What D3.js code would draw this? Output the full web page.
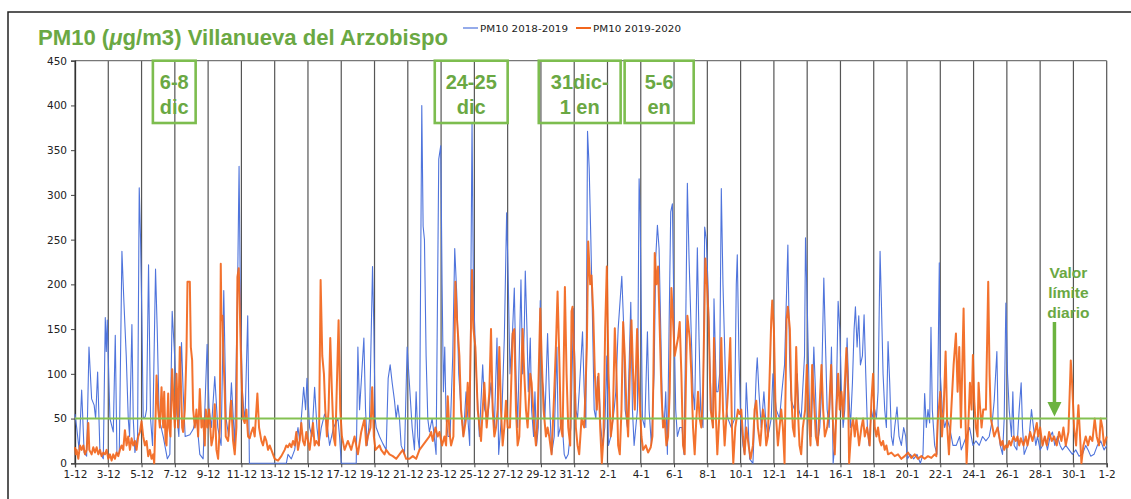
<!DOCTYPE html>
<html><head><meta charset="utf-8">
<script src="https://cdn.jsdelivr.net/npm/d3@7"></script>
<style>body{margin:0;background:#fff;} svg{display:block;}</style>
</head><body>
<svg id="chart" width="1131" height="499"></svg>
<script>
// ---- data (x = days since 1 Dec, y = PM10 µg/m3) ----
const xTickLabels = ["1-12","3-12","5-12","7-12","9-12","11-12","13-12","15-12","17-12","19-12","21-12","23-12","25-12","27-12","29-12","31-12","2-1","4-1","6-1","8-1","10-1","12-1","14-1","16-1","18-1","20-1","22-1","24-1","26-1","28-1","30-1","1-2"];
const yTicks = [0,50,100,150,200,250,300,350,400,450];
const seriesNames = ["PM10 2018-2019","PM10 2019-2020"];
const limitValue = 50;
const annotationLabels = [["6-8","dic"],["24-25","dic"],["31dic-","1 en"],["5-6","en"]];
const annotationSpans = [[4.68,7.25],[21.62,26.0],[27.87,32.79],[33.03,37.18]];
const limitLabel = ["Valor","límite","diario"];

const pm10_2018_2019 = [[0,55],[0.1,40],[0.25,15],[0.4,82],[0.55,12],[0.7,8],[0.84,130],[1,72],[1.15,65],[1.24,50],[1.36,102],[1.5,12],[1.7,5],[1.82,163],[1.88,125],[1.94,160],[2.1,50],[2.3,35],[2.42,143],[2.52,10],[2.66,12],[2.82,237],[2.94,180],[3.08,120],[3.2,50],[3.28,30],[3.42,155],[3.5,50],[3.6,12],[3.76,30],[3.86,308],[3.94,250],[4.02,160],[4.1,50],[4.22,52],[4.3,60],[4.42,222],[4.54,50],[4.66,20],[4.84,217],[4.94,150],[5.06,50],[5.3,30],[5.55,5],[5.7,10],[5.84,170],[5.96,130],[6.04,100],[6.12,55],[6.24,30],[6.4,135],[6.5,80],[6.62,30],[6.9,32],[7.1,38],[7.3,52],[7.5,10],[7.7,5],[7.94,133],[8.06,60],[8.2,40],[8.4,97],[8.58,40],[8.78,20],[8.94,193],[9.08,50],[9.24,30],[9.4,90],[9.6,20],[9.78,210],[9.86,332],[9.94,180],[10.06,80],[10.14,60],[10.22,50],[10.38,165],[10.48,0],[12.7,0],[12.8,10],[13,5],[13.2,15],[13.4,40],[13.5,25],[13.74,85],[13.86,60],[13.94,95],[14.1,40],[14.24,30],[14.4,85],[14.54,40],[14.66,20],[14.8,40],[15,55],[15.1,50],[15.3,20],[15.54,40],[15.8,50],[15.9,30],[16,0],[16.9,0],[17,130],[17.1,60],[17.2,90],[17.36,140],[17.46,60],[17.56,20],[17.7,50],[17.88,220],[17.96,150],[18.04,50],[18.1,40],[18.3,30],[18.5,22],[18.7,15],[18.82,95],[18.94,110],[19.06,90],[19.2,70],[19.3,50],[19.4,65],[19.5,50],[19.6,20],[19.8,10],[19.96,130],[20.06,100],[20.26,40],[20.4,15],[20.5,80],[20.6,30],[20.7,15],[20.84,400],[20.92,265],[21,250],[21.1,120],[21.2,50],[21.3,35],[21.46,50],[21.56,35],[21.7,10],[21.86,340],[21.98,355],[22.06,200],[22.14,80],[22.22,130],[22.3,50],[22.42,30],[22.54,30],[22.7,120],[22.82,240],[22.94,190],[23.06,100],[23.2,60],[23.34,30],[23.5,80],[23.72,20],[23.86,380],[23.94,200],[24.04,140],[24.14,90],[24.3,30],[24.5,110],[24.62,60],[24.8,50],[25,90],[25.2,40],[25.36,140],[25.46,10],[25.66,60],[25.8,140],[25.94,280],[26.04,200],[26.14,100],[26.3,150],[26.4,196],[26.5,100],[26.6,40],[26.8,205],[26.9,100],[27,150],[27.06,215],[27.16,150],[27.24,80],[27.36,140],[27.44,60],[27.56,30],[27.64,80],[27.74,20],[27.84,40],[27.96,182],[28.04,100],[28.16,80],[28.24,50],[28.4,145],[28.5,80],[28.64,10],[28.8,30],[28.96,130],[29.04,30],[29.16,40],[29.26,50],[29.4,10],[29.5,5],[29.64,10],[29.8,40],[29.96,173],[30.1,60],[30.2,50],[30.3,80],[30.5,147],[30.6,80],[30.7,40],[30.8,371],[30.9,330],[31,250],[31.1,160],[31.2,60],[31.3,50],[31.4,97],[31.5,80],[31.6,40],[31.7,20],[31.84,40],[31.96,120],[32.06,20],[32.2,30],[32.4,60],[32.5,80],[32.64,150],[32.86,209],[32.96,160],[33.06,60],[33.2,40],[33.4,180],[33.5,60],[33.6,20],[33.7,40],[33.8,60],[33.9,318],[33.96,280],[34.1,50],[34.24,40],[34.4,147],[34.5,60],[34.64,20],[34.8,100],[34.9,230],[35,266],[35.1,240],[35.2,150],[35.3,60],[35.4,40],[35.5,80],[35.6,10],[35.7,150],[35.8,281],[35.9,290],[36,160],[36.1,60],[36.2,30],[36.34,40],[36.48,40],[36.6,10],[36.68,120],[36.8,313],[36.9,230],[37.04,140],[37.14,80],[37.24,60],[37.4,241],[37.5,140],[37.6,60],[37.74,40],[37.84,264],[37.94,250],[38.04,200],[38.14,120],[38.24,60],[38.34,40],[38.4,184],[38.54,80],[38.64,80],[38.74,100],[38.84,307],[38.94,200],[39.04,130],[39.14,60],[39.24,50],[39.44,40],[39.64,50],[39.74,200],[39.8,233],[39.9,120],[40,50],[40.14,20],[40.24,10],[40.34,90],[40.44,50],[40.54,5],[40.74,0],[40.94,100],[41,118],[41.1,80],[41.24,40],[41.4,80],[41.5,50],[41.64,30],[41.84,50],[41.94,100],[42.14,60],[42.34,50],[42.48,80],[42.64,110],[42.84,244],[42.94,120],[43.04,70],[43.24,60],[43.4,100],[43.5,60],[43.64,50],[43.84,120],[43.9,252],[44,180],[44.14,60],[44.24,30],[44.4,130],[44.5,80],[44.6,20],[44.76,40],[44.86,80],[45,207],[45.12,120],[45.2,60],[45.32,40],[45.46,130],[45.56,0],[45.66,20],[45.76,80],[45.86,181],[45.96,150],[46.06,80],[46.16,40],[46.26,60],[46.4,140],[46.5,80],[46.6,40],[46.72,90],[46.82,150],[46.9,175],[47,130],[47.1,165],[47.2,110],[47.32,120],[47.42,166],[47.52,100],[47.62,40],[47.72,20],[47.86,60],[47.96,50],[48.06,60],[48.16,50],[48.26,80],[48.38,237],[48.46,180],[48.56,100],[48.66,60],[48.76,40],[48.86,136],[48.96,90],[49.06,30],[49.16,20],[49.26,40],[49.4,63],[49.52,30],[49.66,20],[49.8,40],[49.92,30],[50.02,5],[50.2,10],[50.4,5],[50.6,10],[50.8,0],[50.96,10],[51.06,78],[51.16,40],[51.26,60],[51.36,45],[51.44,152],[51.52,60],[51.66,20],[51.8,10],[51.94,224],[52,100],[52.12,60],[52.26,40],[52.4,50],[52.56,40],[52.66,30],[52.76,20],[52.96,20],[53.16,30],[53.26,15],[53.36,20],[53.56,30],[53.76,40],[53.96,20],[54.14,25],[54.34,20],[54.54,30],[54.74,25],[54.94,30],[55.14,50],[55.24,70],[55.4,125],[55.48,40],[55.6,20],[55.74,10],[55.84,50],[55.94,179],[56.04,100],[56.14,60],[56.28,30],[56.36,80],[56.44,20],[56.6,15],[56.74,60],[56.86,90],[56.94,40],[57.04,10],[57.24,20],[57.34,30],[57.48,60],[57.6,40],[57.74,20],[57.84,30],[58,15],[58.14,20],[58.28,30],[58.44,15],[58.6,30],[58.74,35],[58.88,20],[59.04,30],[59.2,20],[59.34,15],[59.54,20],[59.74,15],[59.94,10],[60.14,15],[60.34,8],[60.54,10],[60.74,20],[60.88,15],[61.04,8],[61.24,10],[61.44,20],[61.64,25],[61.84,15],[62,20]];

const pm10_2019_2020 = [[0,18],[0.05,10],[0.1,15],[0.2,5],[0.3,20],[0.4,15],[0.5,20],[0.6,10],[0.7,15],[0.8,45],[0.86,15],[1,10],[1.1,18],[1.2,12],[1.3,18],[1.4,10],[1.5,15],[1.6,8],[1.7,12],[1.8,10],[1.9,15],[2,5],[2.1,10],[2.2,3],[2.3,10],[2.4,5],[2.5,12],[2.6,8],[2.7,15],[2.8,20],[2.9,15],[3,37],[3.1,20],[3.2,30],[3.3,15],[3.4,28],[3.5,20],[3.6,25],[3.7,15],[3.8,30],[3.9,35],[4,47],[4.1,30],[4.2,20],[4.3,25],[4.4,8],[4.5,15],[4.6,5],[4.7,10],[4.76,0],[4.84,50],[4.9,98],[5,60],[5.1,40],[5.2,85],[5.3,40],[5.36,80],[5.44,25],[5.5,20],[5.6,78],[5.66,40],[5.74,30],[5.84,105],[5.94,60],[6,40],[6.1,100],[6.2,40],[6.3,130],[6.44,40],[6.5,35],[6.6,60],[6.7,125],[6.76,203],[6.9,203],[6.96,130],[7.04,115],[7.1,60],[7.2,40],[7.3,60],[7.4,30],[7.5,83],[7.6,40],[7.7,50],[7.8,20],[7.86,60],[7.96,40],[8.06,60],[8.2,20],[8.3,30],[8.4,66],[8.5,15],[8.6,5],[8.7,40],[8.76,223],[8.8,160],[8.86,165],[8.92,120],[9,80],[9.06,30],[9.2,25],[9.3,50],[9.38,70],[9.5,25],[9.6,10],[9.7,40],[9.76,208],[9.84,218],[9.9,175],[10,100],[10.1,50],[10.2,45],[10.3,60],[10.4,30],[10.5,28],[10.6,35],[10.7,40],[10.8,30],[10.96,78],[11.06,40],[11.2,25],[11.3,20],[11.4,30],[11.5,25],[11.6,15],[11.7,20],[11.8,15],[11.9,10],[12,5],[12.2,3],[12.4,8],[12.6,15],[12.7,20],[12.8,18],[12.9,22],[13,18],[13.1,25],[13.2,20],[13.3,35],[13.4,15],[13.5,25],[13.6,45],[13.7,25],[13.8,20],[13.9,35],[14.1,15],[14.3,45],[14.4,20],[14.5,25],[14.66,20],[14.76,205],[14.86,120],[14.96,100],[15.04,60],[15.14,30],[15.24,60],[15.34,140],[15.44,80],[15.54,30],[15.64,20],[15.84,160],[15.94,60],[16.04,30],[16.2,15],[16.4,25],[16.6,15],[16.8,30],[17,10],[17.2,35],[17.4,50],[17.5,20],[17.6,30],[17.76,40],[17.86,85],[17.96,30],[18.06,15],[18.3,20],[18.4,15],[18.6,10],[18.7,15],[18.9,10],[19.1,8],[19.3,5],[19.5,10],[19.7,15],[19.9,5],[20.1,5],[20.3,8],[20.5,5],[20.7,15],[20.9,20],[21.1,25],[21.3,30],[21.4,35],[21.5,25],[21.66,40],[21.8,30],[21.9,35],[22.06,20],[22.2,30],[22.3,20],[22.4,75],[22.5,35],[22.6,20],[22.74,30],[22.86,203],[22.96,160],[23.1,120],[23.2,60],[23.34,30],[23.5,50],[23.6,90],[23.7,50],[23.86,216],[23.94,151],[24.06,130],[24.2,60],[24.4,25],[24.5,60],[24.6,90],[24.74,40],[24.9,80],[25,150],[25.1,60],[25.2,30],[25.3,40],[25.4,60],[25.5,130],[25.6,60],[25.7,20],[25.8,40],[25.9,70],[26,40],[26.14,40],[26.3,145],[26.4,150],[26.5,60],[26.6,20],[26.7,30],[26.8,90],[26.9,150],[27,100],[27.1,60],[27.2,40],[27.36,100],[27.44,90],[27.6,40],[27.7,20],[27.8,50],[27.96,173],[28.04,120],[28.16,60],[28.3,30],[28.4,40],[28.5,30],[28.64,10],[28.8,80],[28.9,130],[29,192],[29.1,120],[29.2,40],[29.3,30],[29.44,197],[29.54,100],[29.64,40],[29.76,20],[29.84,170],[29.9,175],[30,120],[30.1,40],[30.2,20],[30.3,10],[30.44,50],[30.6,40],[30.76,130],[30.84,248],[30.96,200],[31.04,210],[31.14,170],[31.24,100],[31.36,60],[31.46,100],[31.56,40],[31.66,0],[31.76,30],[31.86,150],[31.96,220],[32.06,100],[32.2,30],[32.32,50],[32.44,151],[32.54,100],[32.64,20],[32.74,10],[32.84,60],[32.94,158],[33.04,120],[33.14,60],[33.24,30],[33.34,100],[33.44,160],[33.54,100],[33.64,60],[33.78,150],[33.9,80],[34.04,30],[34.14,15],[34.3,20],[34.44,12],[34.6,18],[34.7,30],[34.76,100],[34.84,235],[34.94,200],[35.04,220],[35.14,150],[35.24,80],[35.34,40],[35.44,50],[35.54,20],[35.64,30],[35.74,80],[35.84,196],[35.94,160],[36.04,120],[36.14,130],[36.24,140],[36.34,158],[36.44,100],[36.54,20],[36.64,10],[36.74,120],[36.8,165],[36.94,140],[37.04,100],[37.14,40],[37.24,10],[37.34,50],[37.44,80],[37.54,50],[37.64,40],[37.74,80],[37.88,229],[37.98,200],[38.08,160],[38.2,60],[38.34,40],[38.4,140],[38.5,60],[38.6,10],[38.74,60],[38.84,140],[38.94,60],[39.04,20],[39.14,50],[39.24,80],[39.38,140],[39.48,40],[39.56,0],[39.68,40],[39.84,60],[39.94,55],[40.04,60],[40.14,30],[40.24,10],[40.34,40],[40.48,20],[40.6,5],[40.74,20],[40.84,60],[40.94,70],[41.04,40],[41.18,20],[41.34,60],[41.44,50],[41.54,20],[41.64,30],[41.84,160],[41.9,182],[42,150],[42.1,60],[42.24,20],[42.44,60],[42.54,40],[42.64,0],[42.76,160],[42.84,175],[42.96,150],[43.04,80],[43.14,40],[43.24,30],[43.34,130],[43.44,60],[43.54,20],[43.64,10],[43.74,40],[43.88,60],[43.98,110],[44.08,60],[44.2,20],[44.3,110],[44.44,60],[44.52,30],[44.64,20],[44.86,110],[44.96,60],[45.06,30],[45.2,40],[45.32,60],[45.44,110],[45.56,40],[45.66,10],[45.76,60],[45.86,100],[45.96,60],[46.06,80],[46.16,50],[46.36,129],[46.46,80],[46.52,0],[46.66,40],[46.76,50],[46.86,30],[46.96,50],[47.12,20],[47.26,40],[47.36,50],[47.46,30],[47.6,40],[47.76,20],[47.86,70],[47.96,100],[48.06,40],[48.16,30],[48.26,40],[48.36,25],[48.46,20],[48.56,25],[48.66,15],[48.76,20],[48.86,10],[49.06,12],[49.26,8],[49.46,10],[49.66,5],[49.86,8],[50.06,12],[50.26,6],[50.46,10],[50.66,5],[50.86,8],[51.06,5],[51.26,8],[51.46,6],[51.66,10],[51.76,8],[51.86,50],[52,80],[52.1,30],[52.2,60],[52.32,125],[52.42,40],[52.52,10],[52.66,60],[52.8,110],[52.94,145],[53.04,80],[53.14,130],[53.24,40],[53.4,173],[53.5,60],[53.58,0],[53.68,40],[53.78,90],[53.88,60],[53.96,121],[54.04,70],[54.14,40],[54.24,30],[54.3,90],[54.38,65],[54.48,40],[54.58,60],[54.74,60],[54.88,203],[54.96,100],[55.04,50],[55.14,40],[55.24,30],[55.34,35],[55.44,40],[55.54,30],[55.64,20],[55.74,25],[55.84,15],[55.94,20],[56.04,18],[56.14,25],[56.24,20],[56.4,30],[56.54,25],[56.64,30],[56.74,20],[56.84,28],[57,20],[57.14,30],[57.24,20],[57.4,35],[57.54,25],[57.68,35],[57.8,45],[57.88,30],[58,40],[58.14,20],[58.28,30],[58.4,20],[58.54,35],[58.7,25],[58.84,30],[59,20],[59.14,35],[59.28,25],[59.4,40],[59.54,20],[59.7,35],[59.84,115],[59.92,90],[60.04,40],[60.16,20],[60.3,65],[60.4,30],[60.48,0],[60.6,20],[60.74,30],[60.88,20],[61,30],[61.14,25],[61.28,50],[61.4,30],[61.54,20],[61.64,50],[61.74,40],[61.84,20],[62,30]];

// ---- layout ----
const svg = d3.select("#chart");
const M = {left:75, right:1106.7, top:60.7, bottom:463.3};
const x = d3.scaleLinear().domain([0,62]).range([M.left, M.right]);
const y = d3.scaleLinear().domain([0,450]).range([M.bottom, M.top]);
const BLUE = "#4f74dc", ORANGE = "#f2661c", GREEN_LINE = "#84c152", GREEN_BOX = "#7dbd4f", GREEN_TXT = "#6aa843";
const tickDays = d3.range(0, 63, 2);

// outer frame
svg.append("path").attr("d","M8,499 V12 H1131").attr("fill","none").attr("stroke","#222").attr("stroke-width",1.5);

// title
svg.append("text").attr("x",38).attr("y",45)
  .attr("font-family","Liberation Sans, Arial, sans-serif").attr("font-weight","bold").attr("font-size",22)
  .attr("fill",GREEN_TXT).attr("textLength",410).attr("lengthAdjust","spacingAndGlyphs")
  .text("PM10 (").append("tspan").attr("font-style","italic").text("μ")
  .select(function(){return this.parentNode;}).append("tspan").text("g/m3) Villanueva del Arzobispo");

// legend
const legendX = [463, 576];
seriesNames.forEach((name,i)=>{
  const g = svg.append("g");
  g.append("line").attr("x1",legendX[i]).attr("x2",legendX[i]+15).attr("y1",28).attr("y2",28)
    .attr("stroke", i===0?BLUE:ORANGE).attr("stroke-width", i===0?1.2:2);
  g.append("text").attr("x",legendX[i]+17).attr("y",31.5)
    .attr("font-family","DejaVu Sans, Verdana, sans-serif").attr("font-size",9.5).attr("fill","#222")
    .attr("textLength",88).attr("lengthAdjust","spacingAndGlyphs").text(name);
});

// gridlines (vertical every 2 days)
svg.append("g").selectAll("line").data(tickDays).join("line")
  .attr("x1",d=>x(d)).attr("x2",d=>x(d)).attr("y1",y(0)).attr("y2",y(450))
  .attr("stroke","#555").attr("stroke-width",1.2);
svg.append("line").attr("x1",x(0)).attr("x2",x(62)).attr("y1",y(450)).attr("y2",y(450))
  .attr("stroke","#777").attr("stroke-width",1.2);

// axes
const yAxis = svg.append("g").attr("transform",`translate(${M.left},0)`)
  .call(d3.axisLeft(y).tickValues(yTicks).tickSize(4).tickPadding(4).tickFormat(d3.format("d")));
const xAxis = svg.append("g").attr("transform",`translate(0,${M.bottom})`)
  .call(d3.axisBottom(x).tickValues(tickDays).tickSize(4).tickPadding(3).tickFormat((d,i)=>xTickLabels[i]));
[yAxis,xAxis].forEach(a=>{
  a.selectAll("text").attr("font-family","DejaVu Sans, Verdana, sans-serif").attr("font-size",10.5).attr("fill","#222");
  a.selectAll("line").attr("stroke","#444");
  a.select(".domain").attr("stroke","#333").attr("stroke-width",1.3);
});

// series
const line = d3.line().x(d=>x(d[0])).y(d=>y(d[1]));
svg.append("path").datum(pm10_2018_2019).attr("d",line).attr("fill","none")
  .attr("stroke",BLUE).attr("stroke-width",1.1).attr("stroke-linejoin","round");
svg.append("path").datum(pm10_2019_2020).attr("d",line).attr("fill","none")
  .attr("stroke",ORANGE).attr("stroke-width",2).attr("stroke-opacity",0.92).attr("stroke-linejoin","round");

// limit line
svg.append("line").attr("x1",x(0)).attr("x2",x(62)).attr("y1",y(limitValue)).attr("y2",y(limitValue))
  .attr("stroke",GREEN_LINE).attr("stroke-width",2);

// annotation boxes
const boxTop = y(450), boxBottom = 123;
annotationLabels.forEach((lbl,i)=>{
  const [a,b] = annotationSpans[i];
  const g = svg.append("g");
  g.append("rect").attr("x",x(a)).attr("y",boxTop).attr("width",x(b)-x(a)).attr("height",boxBottom-boxTop)
    .attr("fill","none").attr("stroke",GREEN_BOX).attr("stroke-width",2.6);
  lbl.forEach((t,j)=>{
    g.append("text").attr("x",(x(a)+x(b))/2).attr("y",89+j*25).attr("text-anchor","middle")
      .attr("font-family","Liberation Sans, Arial, sans-serif").attr("font-weight","bold").attr("font-size",20)
      .attr("fill",GREEN_TXT).text(t);
  });
});

// "Valor límite diario" label and arrow
const lx = x(59.7);
limitLabel.forEach((t,j)=>{
  svg.append("text").attr("x",lx).attr("y",278+j*20).attr("text-anchor","middle")
    .attr("font-family","Liberation Sans, Arial, sans-serif").attr("font-weight","bold").attr("font-size",15.5)
    .attr("fill",GREEN_TXT).text(t);
});
const ax = x(58.86);
svg.append("line").attr("x1",ax).attr("x2",ax).attr("y1",322).attr("y2",404)
  .attr("stroke","#6cb33f").attr("stroke-width",3.5);
svg.append("path").attr("d",`M${ax-7},402 L${ax+7},402 L${ax},${y(limitValue)-2} Z`).attr("fill","#6cb33f");
</script>
</body></html>
